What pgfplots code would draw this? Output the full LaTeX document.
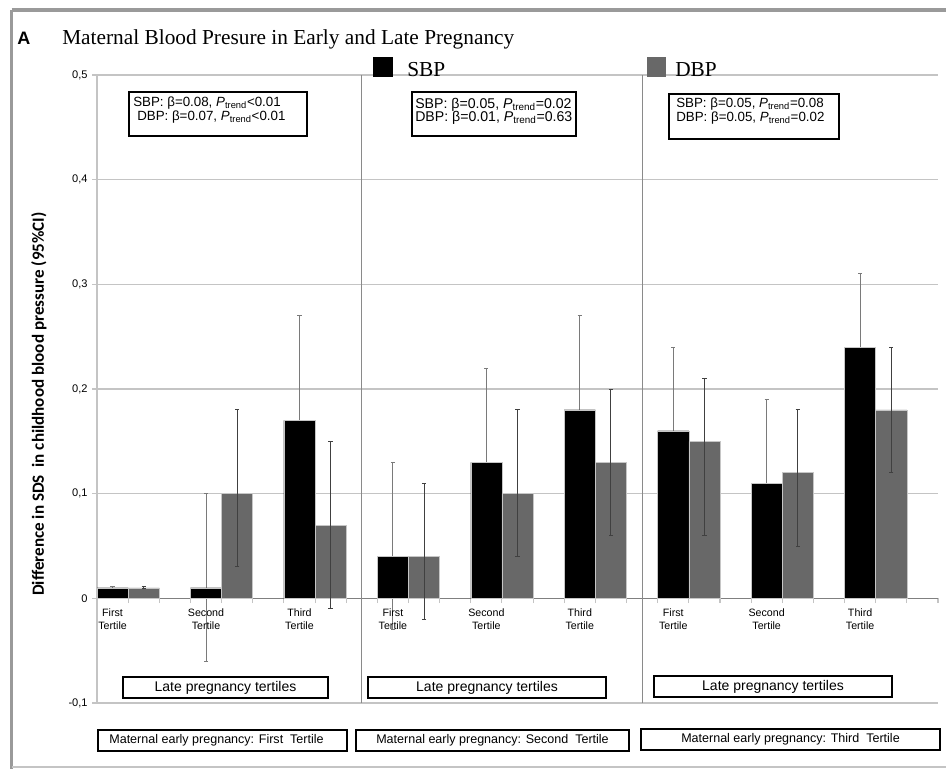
\documentclass[border=0pt]{standalone}
\usepackage{pgfplots}
\pgfplotsset{compat=1.18}
\usepackage{pgfplotstable}
\usepackage{fontspec}
\setmainfont{Liberation Sans}
\newfontfamily\seriffont{Liberation Serif}
\newfontfamily\carlito{Carlito}
\definecolor{dbp}{HTML}{686868}
\definecolor{gridc}{HTML}{C4C4C4}
\definecolor{errc}{HTML}{7A7A7A}
\definecolor{framec}{HTML}{9A9A9A}
\definecolor{sepc}{HTML}{8A8A8A}

\pgfplotstableread{
x y ep em
0.5 0.01 0.001 0.001
3.5 0.01 0.09 0.07
6.5 0.17 0.10 0.10
9.5 0.04 0.09 0.07
12.5 0.13 0.09 0.09
15.5 0.18 0.09 0.09
18.5 0.16 0.08 0.08
21.5 0.11 0.08 0.08
24.5 0.24 0.07 0.07
}\sbptable
\pgfplotstableread{
x y ep em
1.5 0.01 0.001 0.001
4.5 0.10 0.08 0.07
7.5 0.07 0.08 0.08
10.5 0.04 0.07 0.06
13.5 0.10 0.08 0.06
16.5 0.13 0.07 0.07
19.5 0.15 0.06 0.09
22.5 0.12 0.06 0.07
25.5 0.18 0.06 0.06
}\dbptable

\tikzset{catlab/.style={anchor=north, inner sep=0pt, align=center, yshift=-7.5pt, font=\fontsize{8}{9.75}\selectfont}}

\begin{document}
\begin{tikzpicture}
\path[use as bounding box] (0,0) rectangle (709.5pt,-576pt);
\begin{scope}[x=0.75pt,y=-0.75pt]
  % outer frame
  \draw[framec, line width=2.4pt] (11.5,10) -- (960,10);
  \draw[framec, line width=2.4pt] (11.5,10) -- (11.5,780);
  \draw[gridc, line width=0.8pt] (11.5,767) -- (960,767);
  % title
  \node[anchor=base west, inner sep=0pt, font=\bfseries\fontsize{13.5}{16}\selectfont] at (17,44) {A};
  \node[anchor=base west, inner sep=0pt, font=\seriffont\fontsize{16}{19}\selectfont] at (62,44) {Maternal Blood Presure in Early and Late Pregnancy};
  % y label
  \node[rotate=90, inner sep=0pt, font=\carlito\bfseries\fontsize{12.8}{15}\selectfont] at (39,404) {Difference in SDS\ \ in childhood blood pressure (95\%CI)};
\end{scope}

\begin{axis}[
  at={(72.75pt,-527.25pt)}, anchor=south west,
  scale only axis, width=630.75pt, height=471pt,
  xmin=0, xmax=27, ymin=-0.1, ymax=0.5,
  axis y line*=left, axis x line*=middle,
  axis line style={gridc, line width=0.8pt},
  x axis line style={gray, line width=0.8pt},
  xtick={0,1,...,27}, xticklabels={},
  ytick={-0.1,0,0.1,0.2,0.3,0.4,0.5},
  yticklabels={{-0,1},{0},{0,1},{0,2},{0,3},{0,4},{0,5}},
  yticklabel style={font=\fontsize{8.3}{9}\selectfont},
  tick align=outside, major tick length=3.5pt,
  tick style={gridc, line width=0.8pt},
  ymajorgrids, grid style={gridc, line width=0.8pt},
  clip=false,
]
% SBP bars with error bars, then the bars again on top so the whisker is hidden inside the bar
\addplot[ybar, bar width=1, bar shift=0pt, fill=black, draw=gray!45, line width=0.4pt,
  error bars/.cd, y dir=both, y explicit,
  error bar style={errc, line width=0.7pt},
  error mark options={rotate=90, mark size=1.6pt, errc, line width=0.7pt}]
  table[x=x, y=y, y error plus=ep, y error minus=em] {\sbptable};
\addplot[ybar, bar width=1, bar shift=0pt, fill=black, draw=gray!45, line width=0.4pt]
  table[x=x, y=y] {\sbptable};
\addplot[ybar, bar width=1, bar shift=0pt, fill=dbp, draw=gray!45, line width=0.4pt,
  error bars/.cd, y dir=both, y explicit,
  error bar style={black!75, line width=0.7pt},
  error mark options={rotate=90, mark size=1.6pt, black!75, line width=0.7pt}]
  table[x=x, y=y, y error plus=ep, y error minus=em] {\dbptable};
% panel separators
\draw[sepc, line width=0.8pt] (axis cs:8.5,-0.1) -- (axis cs:8.5,0.5);
\draw[sepc, line width=0.8pt] (axis cs:17.5,-0.1) -- (axis cs:17.5,0.5);
% category labels
\node[catlab] at (axis cs:0.5,0) {First\\Tertile};
\node[catlab] at (axis cs:9.5,0) {First\\Tertile};
\node[catlab] at (axis cs:18.5,0) {First\\Tertile};
\node[catlab] at (axis cs:3.5,0) {Second\\Tertile};
\node[catlab] at (axis cs:12.5,0) {Second\\Tertile};
\node[catlab] at (axis cs:21.5,0) {Second\\Tertile};
\node[catlab] at (axis cs:6.5,0) {Third\\Tertile};
\node[catlab] at (axis cs:15.5,0) {Third\\Tertile};
\node[catlab] at (axis cs:24.5,0) {Third\\Tertile};
\end{axis}

\begin{scope}[x=0.75pt,y=-0.75pt]
  % legend
  \fill[black] (373,57) rectangle (393,77);
  \node[anchor=base west, inner sep=0pt, font=\seriffont\fontsize{16}{19}\selectfont] at (407,76.5) {SBP};
  \fill[dbp] (647,57) rectangle (666,77);
  \node[anchor=base west, inner sep=0pt, font=\seriffont\fontsize{16}{19}\selectfont] at (675,76.5) {DBP};
  % stats boxes
  \draw[black, line width=1.1pt, fill=white] (129,92) rectangle (307,136);
  \node[anchor=base west, inner sep=0pt, font=\fontsize{10}{12}\selectfont] at (133,106) {SBP: β=0.08, \textit{P}\textsubscript{trend}<0.01};
  \node[anchor=base west, inner sep=0pt, font=\fontsize{10}{12}\selectfont] at (137,120) {DBP: β=0.07, \textit{P}\textsubscript{trend}<0.01};
  \draw[black, line width=1.1pt, fill=white] (412,92) rectangle (576,136);
  \node[anchor=base west, inner sep=0pt, font=\fontsize{10.6}{12}\selectfont] at (415,108) {SBP: β=0.05, \textit{P}\textsubscript{trend}=0.02};
  \node[anchor=base west, inner sep=0pt, font=\fontsize{10.6}{12}\selectfont] at (415,121.5) {DBP: β=0.01, \textit{P}\textsubscript{trend}=0.63};
  \draw[black, line width=1.1pt, fill=white] (669,94) rectangle (839,139);
  \node[anchor=base west, inner sep=0pt, font=\fontsize{10}{12}\selectfont] at (676,107) {SBP: β=0.05, \textit{P}\textsubscript{trend}=0.08};
  \node[anchor=base west, inner sep=0pt, font=\fontsize{10}{12}\selectfont] at (676,121) {DBP: β=0.05, \textit{P}\textsubscript{trend}=0.02};
  % late pregnancy boxes
  \draw[black, line width=1.1pt, fill=white] (123,677) rectangle (328,698);
  \node[inner sep=0pt, font=\fontsize{10.5}{12}\selectfont] at (225.5,687.5) {Late pregnancy tertiles};
  \draw[black, line width=1.1pt, fill=white] (368,677) rectangle (606,698);
  \node[inner sep=0pt, font=\fontsize{10.5}{12}\selectfont] at (487,687.5) {Late pregnancy tertiles};
  \draw[black, line width=1.1pt, fill=white] (654,676) rectangle (892,697);
  \node[inner sep=0pt, font=\fontsize{10.5}{12}\selectfont] at (773,686.5) {Late pregnancy tertiles};
  % maternal early pregnancy boxes
  \draw[black, line width=1.1pt, fill=white] (98,730) rectangle (347,751);
  \node[inner sep=0pt, font=\fontsize{9.4}{11}\selectfont] at (216.5,740.5) {Maternal early pregnancy: First~ Tertile};
  \draw[black, line width=1.1pt, fill=white] (356,730) rectangle (629,751);
  \node[inner sep=0pt, font=\fontsize{9.4}{11}\selectfont] at (492.5,740.5) {Maternal early pregnancy: Second~ Tertile};
  \draw[black, line width=1.1pt, fill=white] (641,729) rectangle (940,750);
  \node[inner sep=0pt, font=\fontsize{9.4}{11}\selectfont] at (790.5,739.5) {Maternal early pregnancy: Third~ Tertile};
\end{scope}
\end{tikzpicture}
\end{document}
